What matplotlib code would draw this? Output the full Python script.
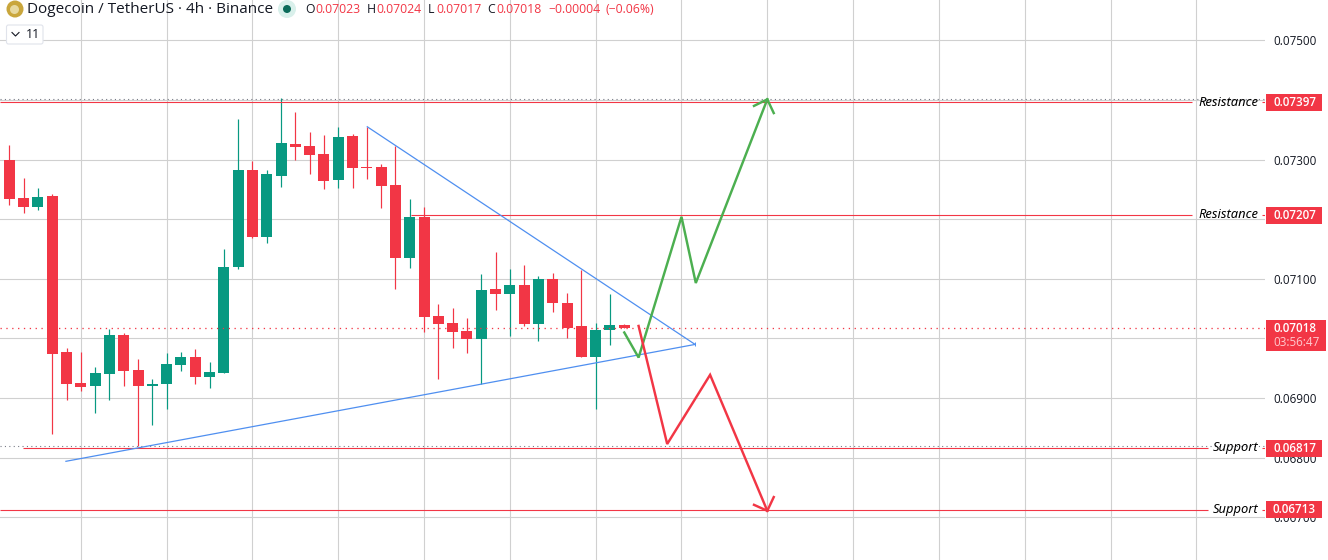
import numpy as np
import matplotlib
matplotlib.use("Agg")
import matplotlib.pyplot as plt
from matplotlib.patches import Circle, FancyBboxPatch, Rectangle

plt.rcParams['font.family'] = ['Open Sans', 'DejaVu Sans']

UP = '#089981'
DOWN = '#f23645'
GRID = '#d0d0d0'
INK = '#131722'

bar_index = np.arange(-1, 44)
opens = [.07249,.07299,.07236,.07221,.07239,.06977,.06925,.06920,.06940,.07006,.06947,.06920,.06924,.06955,
         .06969,.06935,.06942,.07120,.07283,.07170,.07272,.07326,.07323,.07309,.07266,.07340,.07288,.07288,
         .07257,.07135,.07204,.07038,.07026,.07012,.06999,.07083,.07075,.07090,.07024,.07100,.07059,.07021,
         .06969,.07014,.07023]
highs = [.07308,.07324,.07269,.07252,.07242,.06984,.06977,.06952,.07016,.07009,.06966,.06932,.06976,.06977,
         .06982,.06960,.07150,.07368,.07298,.07283,.07403,.07380,.07346,.07341,.07355,.07343,.07355,.07293,
         .07323,.07234,.07220,.07058,.07051,.07034,.07108,.07145,.07116,.07123,.07105,.07110,.07076,.07115,
         .07026,.07075,.07024]
lows = [.07241,.07224,.07211,.07215,.06840,.06896,.06912,.06875,.06896,.06920,.06820,.06855,.06882,.06945,
        .06924,.06917,.06942,.07116,.07168,.07160,.07254,.07299,.07276,.07251,.07252,.07252,.07267,.07219,
        .07083,.07118,.07011,.06932,.06984,.06976,.06924,.07048,.07004,.07021,.06996,.07044,.07001,.06969,
        .06882,.06989,.07017]
closes = [.07299,.07234,.07221,.07237,.06974,.06924,.06919,.06942,.07006,.06945,.06920,.06924,.06957,.06969,
          .06935,.06944,.07120,.07283,.07170,.07276,.07328,.07321,.07308,.07264,.07338,.07286,.07286,.07256,
          .07135,.07204,.07036,.07024,.07011,.06999,.07081,.07075,.07090,.07024,.07100,.07059,.07018,.06969,
          .07014,.07023,.07018]

price_ticks = [.0750,.0740,.0730,.0720,.0710,.0700,.0690,.0680,.0670]
price_labels = {.0750:'0.07500',.0730:'0.07300',.0710:'0.07100',.0690:'0.06900',.0680:'0.06800',.0670:'0.06700'}
time_grid = [5,11,17,23,29,35,41,47,53,59,65,71,77,83]

level_prices = [.07397,.07207,.06817,.06713]
level_texts = ['Resistance','Resistance','Support','Support']
level_labels = ['0.07397','0.07207','0.06817','0.06713']
level_starts = [None,28.06,0.96,None]
dotted_prices = [.07402,.06820]
last_price = .07017

wedge_top_x = [25.03,47.95]
wedge_top_y = [.07355,.06990]
wedge_low_x = [3.96,47.95]
wedge_low_y = [.06794,.06990]

green_x = [43,44,47,48,53]
green_y = [.07010,.06968,.07204,.07093,.07401]
green_barb_x = [52.07,53,53.45]
green_barb_y = [.07390,.07401,.07378]
red_x = [44,46,49,53]
red_y = [.07021,.06823,.06939,.06711]
red_barb_x = [52.07,53,53.45]
red_barb_y = [.06721,.06711,.06734]

W,H = 1328,560
AX_R = 1265
fig = plt.figure(figsize=(W/100,H/100),dpi=100,facecolor='white')
ax = fig.add_axes([0,0,AX_R/W,1])
STEP = 14.302
X0 = 9.3
ax.set_xlim(-X0/STEP,(AX_R-X0)/STEP)
ax.set_ylim(.075676-560*1.677e-5,.075676)
for s in ax.spines.values():
    s.set_visible(False)
LW = 0.72
ax.set_axisbelow(True)
ax.set_xticks(time_grid)
ax.set_yticks(price_ticks)
ax.set_yticklabels([price_labels.get(p,'') for p in price_ticks])
ax.grid(True,color=GRID,lw=LW*1.1)
ax.yaxis.tick_right()
ax.tick_params(axis='x',length=0,labelbottom=False)
ax.tick_params(axis='y',length=0,pad=6.3,labelsize=8.4,labelcolor=INK)

colors = [UP if c>=o else DOWN for o,c in zip(opens,closes)]
ax.vlines(bar_index,lows,highs,colors=colors,lw=LW*1.2,zorder=3)
o = np.array(opens); c = np.array(closes)
ax.bar(bar_index,np.abs(c-o),bottom=np.minimum(o,c),width=11/STEP,color=colors,lw=0,zorder=4)

left = ax.get_xlim()[0]; right = ax.get_xlim()[1]
for p,t,st in zip(level_prices,level_texts,level_starts):
    s0 = left if st is None else st
    gap = 1192 if t=='Resistance' else 1208
    ax.hlines(p,s0,(gap-X0)/STEP,color=DOWN,lw=LW*1.1,zorder=5)
    ax.hlines(p,(1262-X0)/STEP,right,color=DOWN,lw=LW*1.1,zorder=5)
for p in dotted_prices:
    ax.hlines(p,left,right,color='#787b86',lw=LW*1.1,linestyle=(0,(1,3)),zorder=5)
ax.hlines(last_price,left,right,color=DOWN,lw=LW*1.3,linestyle=(0,(1,3.5)),zorder=5)

ax.plot(wedge_top_x,wedge_top_y,color='#4f8ff0',lw=0.9,zorder=6)
ax.plot(wedge_low_x,wedge_low_y,color='#4f8ff0',lw=0.9,zorder=6)
ax.plot(wedge_top_x[-1:],wedge_top_y[-1:],marker='|',ms=3.5,mew=0.7,color='#4f8ff0',zorder=6)
for xs,ys,col in [(green_x,green_y,'#4caf50'),(green_barb_x,green_barb_y,'#4caf50'),
                  (red_x,red_y,DOWN),(red_barb_x,red_barb_y,DOWN)]:
    ax.plot(xs,ys,color=col,lw=1.75,zorder=7,solid_joinstyle='miter')

ov = fig.add_axes([0,0,1,1],zorder=10)
ov.set_xlim(0,W); ov.set_ylim(H,0); ov.axis('off'); ov.patch.set_alpha(0)

# price labels on the scale
for p,lab,(y0,y1) in zip(level_prices,level_labels,[(94,110.7),(207,223.7),(440,457),(501,517.7)]):
    ov.add_patch(Rectangle((1266,y0),56,y1-y0,color=DOWN,lw=0,zorder=3))
    ov.text(1294.5,(y0+y1)/2,lab,color='white',ha='center',va='center',fontsize=8.4,fontweight='semibold',zorder=4)
ov.add_patch(Rectangle((1266,320),59.7,31,color=DOWN,lw=0,zorder=3))
ov.text(1294.5,329,'0.07018',color='white',ha='center',va='center',fontsize=8.4,fontweight='semibold',zorder=4)
ov.text(1297,343,'03:56:47',color='#ffc9ce',ha='center',va='center',fontsize=8.4,zorder=4)

for y,t,xr in [(102,'Resistance',1258),(215,'Resistance',1258),(448,'Support',1258),(509,'Support',1258)]:
    ov.text(xr,y,t,color='#000000',ha='right',va='center',fontsize=9.3,style='italic',family='Noto Sans',fontweight='semibold')

# header
ov.add_patch(Circle((15,9),8.5,color='#c9a63c',lw=0))
ov.add_patch(Circle((14.5,9.5),4.5,color='#e7d9a0',lw=0))
ov.text(27,9.5,'Dogecoin / TetherUS · 4h · Binance',color=INK,ha='left',va='center',fontsize=11)
ov.add_patch(Circle((287,9),9,color='#d9f0eb',lw=0))
ov.add_patch(Circle((287,9),4,color='#0b6b5a',lw=0))
for x,t,col in [(305.5,'O',INK),(315.5,'0.07023',DOWN),(366.5,'H',INK),(376,'0.07024',DOWN),(428,'L',INK),
                (436,'0.07017',DOWN),(487,'C',INK),(496,'0.07018',DOWN),(548,'−0.00004',DOWN),(605,'(−0.06%)',DOWN)]:
    ov.text(x,9.5,t,color=col,ha='left',va='center',fontsize=8.8)
ov.add_patch(FancyBboxPatch((6.5,25),36.5,19,boxstyle='round,pad=0,rounding_size=2',fc='white',ec='#e0e3eb',lw=0.8))
ov.plot([12,15.5,19],[32.5,36,32.5],color=INK,lw=0.8)
ov.text(26,34.5,'11',color=INK,ha='left',va='center',fontsize=8.8)

fig.savefig('out.png',dpi=100)
